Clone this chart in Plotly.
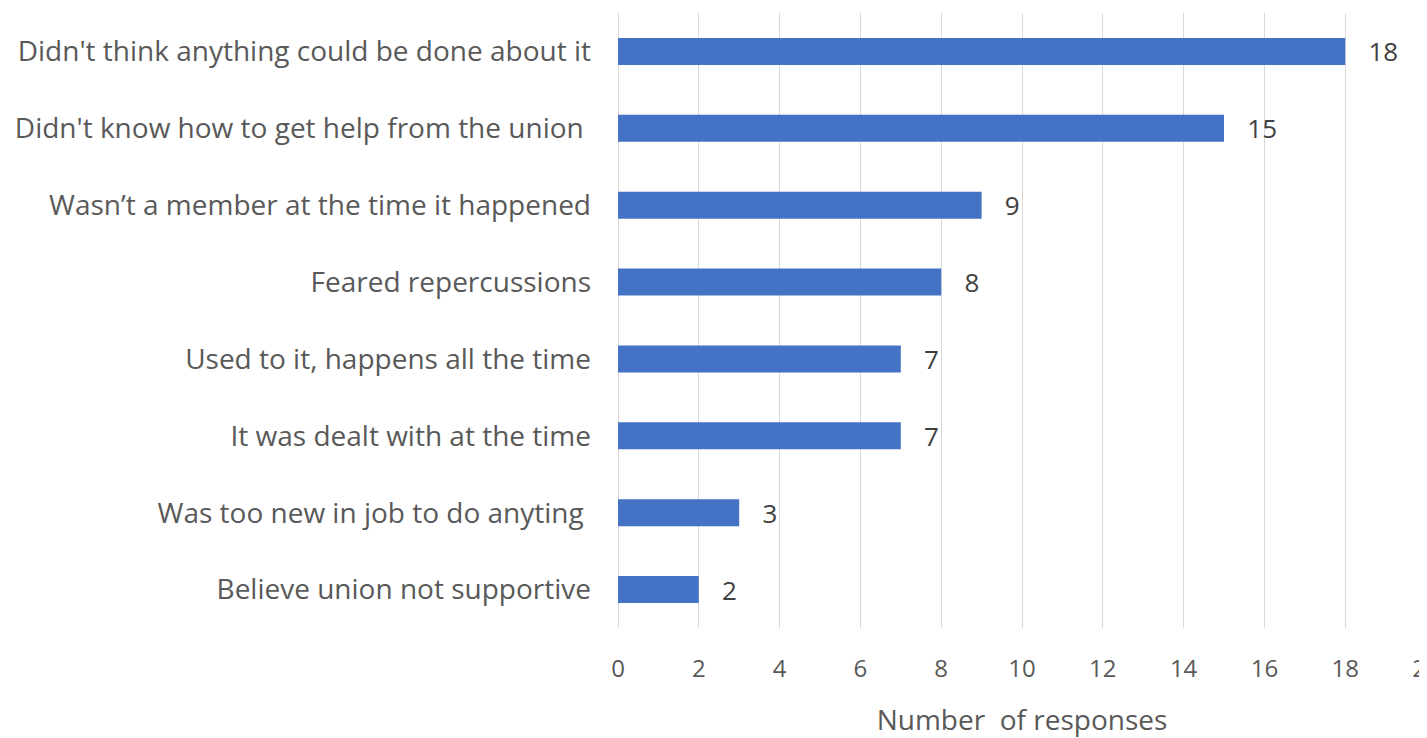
import plotly.graph_objects as go

categories = [
    "Didn't think anything could be done about it",
    "Didn't know how to get help from the union\u00a0",
    "Wasn\u2019t a member at the time it happened",
    "Feared repercussions",
    "Used to it, happens all the time",
    "It was dealt with at the time",
    "Was too new in job to do anyting\u00a0",
    "Believe union not supportive",
]
values = [18, 15, 9, 8, 7, 7, 3, 2]
x_ticks = [0, 2, 4, 6, 8, 10, 12, 14, 16, 18, 20]

FONT = "Open Sans"

fig = go.Figure(go.Bar(
    x=values,
    y=categories,
    orientation="h",
    marker=dict(color="#4472C4", line=dict(width=0)),
    text=values,
    texttemplate="\u00a0\u00a0\u00a0%{x}",
    textposition="outside",
    constraintext="none",
    textfont=dict(family=FONT, size=26, color="#404040"),
    cliponaxis=False,
))

fig.update_layout(
    width=1427, height=738,
    margin=dict(l=610, r=9, t=5, b=118),
    paper_bgcolor="white", plot_bgcolor="white",
    bargap=0.65,
    showlegend=False,
    font=dict(family=FONT, size=25, color="#595959"),
)
fig.update_xaxes(
    range=[0, 20],
    tickvals=x_ticks,
    showgrid=True, gridcolor="#D9D9D9", gridwidth=1,
    zeroline=True, zerolinecolor="#D9D9D9", zerolinewidth=1,
    showline=False,
    ticks="", ticklabelstandoff=24,
    ticklabeloverflow="allow",
    tickfont=dict(family=FONT, size=24, color="#595959"),
    title=dict(text="Number  of responses", font=dict(family=FONT, size=28, color="#595959"), standoff=27),
    automargin=False,
)
fig.update_yaxes(
    autorange="reversed",
    showgrid=False, showline=False, ticks="",
    ticklabelstandoff=26,
    tickfont=dict(family=FONT, size=28, color="#595959"),
    automargin=False,
)

fig.write_html("out.html")
